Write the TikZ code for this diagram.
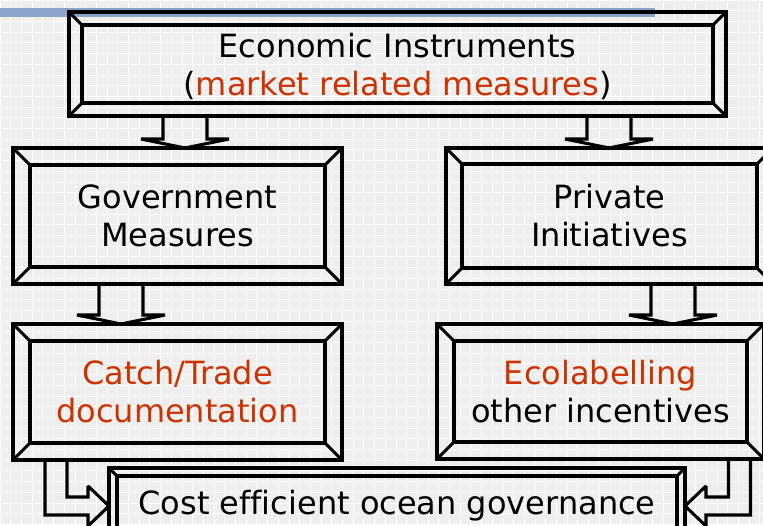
\documentclass[tikz,border=0pt]{standalone}
\usepackage{fontspec}
\setmainfont{DejaVu Sans}[Ligatures={NoCommon}]
\usetikzlibrary{calc}
\definecolor{markred}{RGB}{204,51,0}
\definecolor{bggray}{RGB}{238,238,238}
\definecolor{stripblue}{RGB}{140,164,200}

\newcommand\framebevel[2]{%
  \draw[frameline] ($(#1.north west)+(#2,#2)$) coordinate (#1-inw)
    rectangle ($(#1.south east)+(-#2,-#2)$) coordinate (#1-ise);
  \draw[frameline] (#1.north west) -- (#1-inw) (#1.south east) -- (#1-ise)
    (#1.north east) -- ($(#1.north east)+(-#2,#2)$)
    (#1.south west) -- ($(#1.south west)+(#2,-#2)$);}
\newcommand\blockdown[3]{%
  \draw[frameline] ($(#1.south -| #3)+(-22,0)$) -- ($(#2.north -| #3)+(-22,-9)$)
    -- ++(-22,0) -- (#2.north -| #3) -- ($(#2.north -| #3)+(44,-9)$)
    -- ++(-22,0) -- ($(#1.south -| #3)+(22,0)$);}

\begin{document}
\begin{tikzpicture}[x=1pt,y=-1pt,
  frameline/.style={line width=3.1pt,line join=miter,miter limit=2.5},
  frame/.style={draw,frameline,outer sep=0pt,inner sep=0pt,align=center,
    font=\fontsize{32}{38}\selectfont}]
\useasboundingbox (0,0) rectangle (763,525);
\clip (0,0) rectangle (763,525);
\fill[bggray] (0,0) rectangle (763,525);
\draw[white,line width=0.7pt,step=10.7pt] (0,0) grid (763,525);
\fill[stripblue] (0,7.5) rectangle (655,16.5);

\node[frame,minimum width=657pt,minimum height=104pt,text depth=-5pt] (econ) at (397.5,64)
  {Economic Instruments\\(\textcolor{markred}{market related measures})};
\node[frame,minimum width=329pt,minimum height=136pt] (gov) at (177.5,216)
  {Government\\Measures};
\node[frame,minimum width=327pt,minimum height=136pt] (priv) at (609.5,216)
  {Private\\Initiatives};
\node[frame,minimum width=329pt,minimum height=136pt] (catch) at (177.5,392)
  {\textcolor{markred}{Catch/Trade}\\\textcolor{markred}{documentation}};
\node[frame,minimum width=327pt,minimum height=135pt] (eco) at (600.5,391.5)
  {\textcolor{markred}{Ecolabelling}\\other incentives};
\node[frame,minimum width=576pt,minimum height=76pt] (cost) at (397,506)
  {\raisebox{3pt}{Cost efficient ocean governance}};

\framebevel{econ}{13}
\framebevel{gov}{17}
\framebevel{priv}{16}
\framebevel{catch}{17}
\framebevel{eco}{17}
\framebevel{cost}{8}

\coordinate (ax1) at (185,0);
\coordinate (ax2) at (609,0);
\coordinate (ax3) at (121,0);
\coordinate (ax4) at (673,0);
\coordinate (el1) at (56,0);
\coordinate (el2) at (739.5,0);

\blockdown{econ}{gov}{ax1}
\blockdown{econ}{priv}{ax2}
\blockdown{gov}{catch}{ax3}
\blockdown{priv}{eco}{ax4}

\draw[frameline] ($(catch.south -| el1)+(11,0)$) -- ($(el1 |- cost.west)+(11,-9)$)
  -- ($(cost.west)+(-21,-9)$) -- ++(0,-11) -- (cost.west) -- ($(cost.west)+(-21,20)$)
  -- ++(0,-11) -- ($(el1 |- cost.west)+(-11,9)$) -- ($(catch.south -| el1)+(-11,0)$);
\draw[frameline] ($(eco.south -| el2)+(-11,0)$) -- ($(el2 |- cost.east)+(-11,-9)$)
  -- ($(cost.east)+(21,-9)$) -- ++(0,-11) -- (cost.east) -- ($(cost.east)+(21,20)$)
  -- ++(0,-11) -- ($(el2 |- cost.east)+(11,9)$) -- ($(eco.south -| el2)+(11,0)$);
\end{tikzpicture}
\end{document}
